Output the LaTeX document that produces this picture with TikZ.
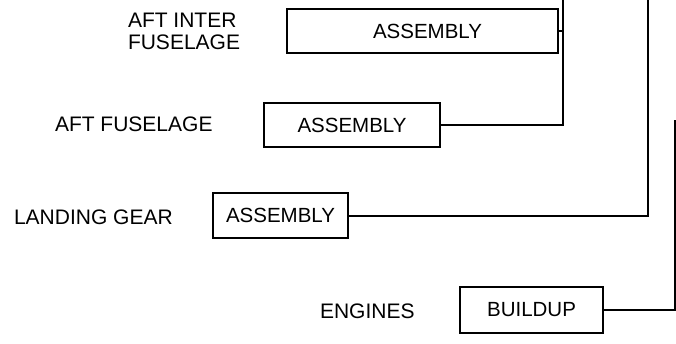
\documentclass[tikz,border=0pt]{standalone}
\usepackage{fontspec}
\setmainfont{Liberation Sans}
\tikzset{box/.style={draw, line width=2bp, inner sep=0, font=\fontsize{20.5bp}{22bp}\selectfont},
  lbl/.style={anchor=west, inner sep=0, align=left, font=\fontsize{21bp}{22bp}\selectfont}}

\begin{document}
\begin{tikzpicture}[x=1bp, y=-1bp, line width=2bp]
  \useasboundingbox (0,0) rectangle (676,343);
  \node[box, minimum width=271bp, minimum height=44bp] (inter) at (422.5,31) {\hspace*{10bp}ASSEMBLY};
  \node[box, minimum width=176bp, minimum height=44bp] (aft) at (352,125) {ASSEMBLY};
  \node[box, minimum width=135bp, minimum height=45bp] (gear) at (280.5,215.5) {ASSEMBLY};
  \node[box, minimum width=143bp, minimum height=46bp] (eng) at (531.5,310) {BUILDUP};
  \node[lbl] (l1) at (127,31) {AFT INTER\\FUSELAGE};
  \node[lbl] (l2) at (54,124) {AFT FUSELAGE};
  \node[lbl] (l3) at (13,217) {LANDING GEAR};
  \node[lbl] (l4) at (319,311) {ENGINES};
  \coordinate (w1) at (563,0);
  \coordinate (w2) at (648,0);
  \coordinate (w3) at (675,120);
  \draw (inter.east) -- (inter.east -| w1);
  \draw (w1) |- (aft.east);
  \draw (w2) |- (gear.east);
  \draw[line width=1.3bp] (eng.east) -| (w3);
\end{tikzpicture}
\end{document}
